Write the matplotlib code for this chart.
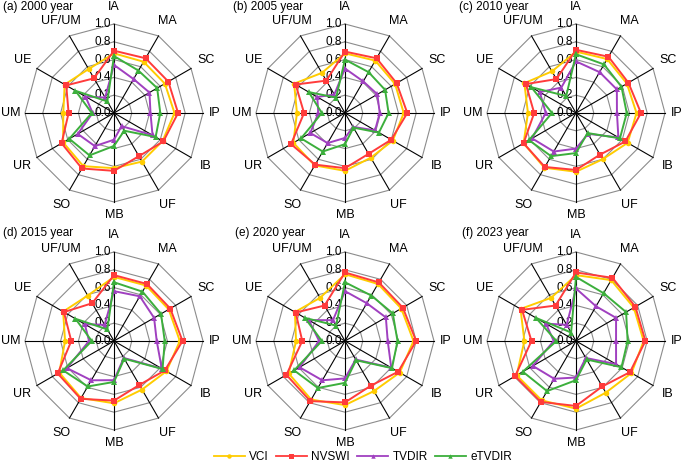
import numpy as np
import matplotlib
matplotlib.use("Agg")
import matplotlib.pyplot as plt
from matplotlib.lines import Line2D
from matplotlib.transforms import offset_copy

categories = ["IA", "MA", "SC", "IP", "IB", "UF", "MB", "SO", "UR", "UM", "UE", "UF/UM"]
titles = ["(a) 2000 year", "(b) 2005 year", "(c) 2010 year",
          "(d) 2015 year", "(e) 2020 year", "(f) 2023 year"]
series_names = ["VCI", "NVSWI", "TVDIR", "eTVDIR"]

vci_2000 = [0.67, 0.665, 0.66, 0.68, 0.63, 0.63, 0.62, 0.69, 0.66, 0.57, 0.64, 0.57]
nvswi_2000 = [0.70, 0.71, 0.705, 0.72, 0.64, 0.56, 0.65, 0.72, 0.68, 0.51, 0.62, 0.45]
tvdir_2000 = [0.54, 0.44, 0.46, 0.41, 0.50, 0.17, 0.30, 0.43, 0.47, 0.24, 0.37, 0.20]
etvdir_2000 = [0.64, 0.55, 0.56, 0.52, 0.54, 0.23, 0.37, 0.55, 0.58, 0.25, 0.50, 0.15]

vci_2005 = [0.67, 0.68, 0.65, 0.66, 0.62, 0.58, 0.65, 0.68, 0.67, 0.54, 0.66, 0.52]
nvswi_2005 = [0.69, 0.71, 0.67, 0.70, 0.60, 0.53, 0.62, 0.67, 0.70, 0.46, 0.64, 0.42]
tvdir_2005 = [0.50, 0.41, 0.42, 0.39, 0.39, 0.18, 0.28, 0.39, 0.45, 0.30, 0.36, 0.24]
etvdir_2005 = [0.60, 0.53, 0.52, 0.49, 0.44, 0.19, 0.35, 0.50, 0.57, 0.26, 0.47, 0.20]

vci_2010 = [0.69, 0.70, 0.66, 0.68, 0.67, 0.60, 0.66, 0.71, 0.68, 0.54, 0.67, 0.54]
nvswi_2010 = [0.71, 0.73, 0.68, 0.73, 0.64, 0.54, 0.64, 0.70, 0.68, 0.47, 0.65, 0.44]
tvdir_2010 = [0.58, 0.53, 0.53, 0.46, 0.55, 0.27, 0.40, 0.50, 0.57, 0.34, 0.47, 0.33]
etvdir_2010 = [0.66, 0.63, 0.59, 0.57, 0.57, 0.26, 0.45, 0.56, 0.61, 0.27, 0.58, 0.22]

vci_2015 = [0.72, 0.72, 0.71, 0.74, 0.68, 0.63, 0.70, 0.74, 0.71, 0.55, 0.66, 0.59]
nvswi_2015 = [0.74, 0.74, 0.73, 0.77, 0.66, 0.57, 0.67, 0.75, 0.73, 0.48, 0.65, 0.49]
tvdir_2015 = [0.56, 0.58, 0.52, 0.48, 0.62, 0.22, 0.44, 0.51, 0.61, 0.28, 0.38, 0.21]
etvdir_2015 = [0.66, 0.64, 0.61, 0.57, 0.63, 0.23, 0.46, 0.59, 0.66, 0.25, 0.50, 0.15]

vci_2020 = [0.75, 0.74, 0.73, 0.77, 0.71, 0.65, 0.72, 0.76, 0.73, 0.55, 0.65, 0.56]
nvswi_2020 = [0.77, 0.76, 0.75, 0.80, 0.69, 0.58, 0.69, 0.78, 0.76, 0.48, 0.64, 0.46]
tvdir_2020 = [0.56, 0.49, 0.53, 0.48, 0.60, 0.24, 0.42, 0.51, 0.59, 0.29, 0.47, 0.27]
etvdir_2020 = [0.66, 0.59, 0.62, 0.59, 0.61, 0.25, 0.47, 0.61, 0.66, 0.26, 0.52, 0.20]

vci_2023 = [0.74, 0.79, 0.75, 0.76, 0.72, 0.67, 0.76, 0.77, 0.77, 0.58, 0.72, 0.56]
nvswi_2023 = [0.77, 0.82, 0.77, 0.78, 0.70, 0.59, 0.73, 0.79, 0.79, 0.50, 0.70, 0.46]
tvdir_2023 = [0.59, 0.45, 0.52, 0.45, 0.52, 0.22, 0.41, 0.49, 0.56, 0.25, 0.39, 0.21]
etvdir_2023 = [0.72, 0.62, 0.65, 0.58, 0.59, 0.24, 0.44, 0.65, 0.69, 0.22, 0.52, 0.11]

panels = [
    [vci_2000, nvswi_2000, tvdir_2000, etvdir_2000],
    [vci_2005, nvswi_2005, tvdir_2005, etvdir_2005],
    [vci_2010, nvswi_2010, tvdir_2010, etvdir_2010],
    [vci_2015, nvswi_2015, tvdir_2015, etvdir_2015],
    [vci_2020, nvswi_2020, tvdir_2020, etvdir_2020],
    [vci_2023, nvswi_2023, tvdir_2023, etvdir_2023],
]
rticks = [0.0, 0.2, 0.4, 0.6, 0.8, 1.0]

colors = ["#FFCC00", "#FF3B3B", "#A040C0", "#3CAF3C"]
markers = ["o", "s", "^", "^"]
msizes = [4, 4.5, 4, 4]

plt.rcParams["font.family"] = ["Liberation Sans", "DejaVu Sans"]

W, H = 685, 462
fig = plt.figure(figsize=(W / 100, H / 100), dpi=100)

centers = [(114, 113), (345, 113), (576, 113), (114, 341), (345, 341), (576, 341)]
title_pos = [(3, 7), (233, 7), (459, 7), (3, 233), (235, 233), (462, 233)]
R = 89

n = len(categories)
theta = np.arange(n) * 2 * np.pi / n
theta_closed = np.append(theta, theta[0])
label_r = {"IP": 1.13, "UM": 1.16, "MB": 1.15}

for k in range(6):
    cx, cy = centers[k]
    ax = fig.add_axes([(cx - R) / W, (H - cy - R) / H, 2 * R / W, 2 * R / H],
                      projection="polar")
    ax.set_theta_zero_location("N")
    ax.set_theta_direction(-1)
    ax.set_ylim(0, 1.0)
    ax.grid(False)
    ax.spines["polar"].set_visible(False)
    ax.set_xticks([])
    ax.set_yticks([])
    ax.patch.set_visible(False)

    # polygon grid
    for r in rticks[1:]:
        ax.plot(theta_closed, [r] * (n + 1), color="#8c8c8c", lw=0.8, zorder=1, clip_on=False)
    # spokes
    for t in theta:
        ax.plot([t, t], [0, 1.0], color="black", lw=0.8, zorder=1.5, clip_on=False)

    # radial labels
    trans = offset_copy(ax.transData, fig=fig, x=-2.5, y=0, units="points")
    for r in rticks:
        ax.text(0, r, f"{r:.1f}", transform=trans, ha="right", va="center",
                fontsize=8.5, color="black", zorder=2)

    # category labels
    for t, lab in zip(theta, categories):
        ax.text(t, label_r.get(lab, 1.19), lab, ha="center", va="center", fontsize=9)

    for vals, c, m, ms in zip(panels[k], colors, markers, msizes):
        v = list(vals) + [vals[0]]
        ax.plot(theta_closed, v, color=c, lw=1.4, marker=m, markersize=ms,
                markeredgewidth=0, zorder=3, clip_on=False)

    tx, ty = title_pos[k]
    fig.text(tx / W, 1 - ty / H, titles[k], ha="left", va="center", fontsize=8.5)

handles = [Line2D([0], [0], color=c, lw=1.3, marker=m, markersize=ms * 0.8, markeredgewidth=0)
           for c, m, ms in zip(colors, markers, msizes)]
fig.legend(handles, series_names, loc="center", bbox_to_anchor=(363 / W, 1 - 457 / H),
           ncol=4, frameon=False, fontsize=8.5, handlelength=2.6, handletextpad=0.4,
           columnspacing=0.6, borderpad=0)

fig.savefig("out.png", dpi=100)
